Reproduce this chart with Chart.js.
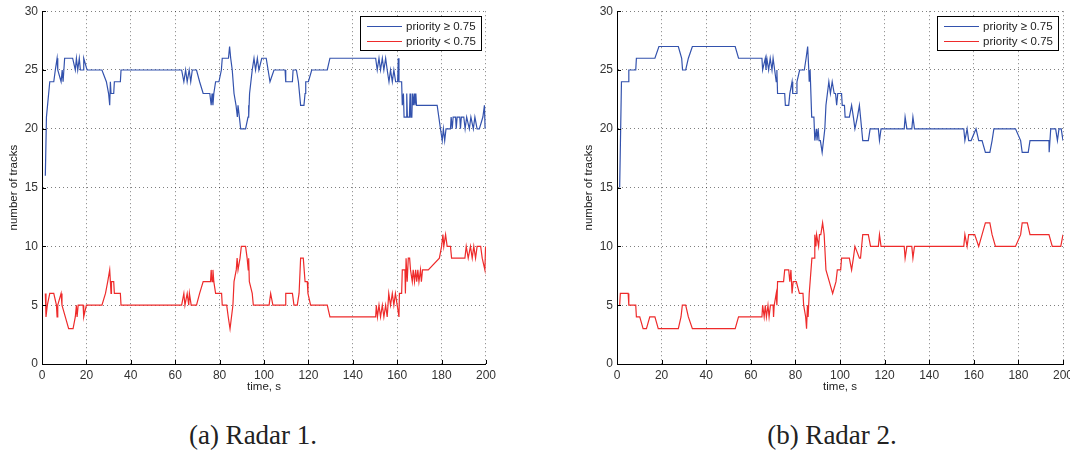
<!DOCTYPE html>
<html>
<head>
<meta charset="utf-8">
<script src="https://cdn.jsdelivr.net/npm/chart.js@4.4.1/dist/chart.umd.min.js"></script>
<style>
  html, body { margin: 0; padding: 0; background: #fff; }
  body { width: 1070px; height: 451px; overflow: hidden; position: relative; }
  canvas { position: absolute; top: 0; }
  .caption { position: absolute; top: 420px; width: 300px; text-align: center; line-height: 30px;
             font-family: "Liberation Serif", "Times New Roman", serif; font-size: 27px; color: #222; }
</style>
</head>
<body>
<canvas id="radar1" width="500" height="400" style="left:0px"></canvas>
<canvas id="radar2" width="510" height="400" style="left:575px"></canvas>
<div class="caption" style="left:103px">(a) Radar 1.</div>
<div class="caption" style="left:682px">(b) Radar 2.</div>
<script>
// tick labels
const xTicks = [0, 20, 40, 60, 80, 100, 120, 140, 160, 180, 200];
const yTicks = [0, 5, 10, 15, 20, 25, 30];
const seriesLabels = ["priority \u2265 0.75", "priority < 0.75"];

// Radar 1, priority >= 0.75
const r1HighT = [1.5,2,3.5,5.3,6,6.8,7.1,8.6,9.1,9.5,10.2,13.8,15,15.5,16.1,16.8,17.3,18.5,18.8,20.3,27,29,30,30.5,30.8,31.1,32.3,32.6,35.3,35.6,
  62.9,63.9,64.7,65.4,66.3,67,67.7,69.6,71,72.6,75.6,76.2,76.6,77,77.4,78.2,79.7,80.8,81.2,84,84.5,85,85.7,86,86.5,87.4,88,88.3,88.9,89.5,
  91.7,92.8,93,93.2,93.5,94.7,95.5,96.2,97,97.7,99,101,102.7,104.5,109.5,109.8,112.8,113.1,114.6,115.5,116.5,118,118.5,118.8,120,121.5,128.5,129.7,
  150.3,151,151.8,152.5,153.3,154,154.8,155.5,156.3,157,157.8,158.5,159.3,160.2,160.5,160.8,162,162.3,162.8,163.1,164,164.3,164.6,165.5,165.8,166.1,
  166.6,166.9,167.3,167.7,168,168.4,168.7,178,179.5,180.3,180.8,181.4,182,184,184.3,184.8,185.2,186.3,186.6,187,188.2,188.5,188.9,190,190.6,191.3,
  192.5,193.2,194.3,195,196,197,198.6,199.3,199.6,200];
const r1HighV = [16,21,24,24,25,26,25,24,25,24,26,26,25,26,25,26,25,25,26,25,25,24,23,22,24,23,23,24,24,25,
  25,24,25,24,25,24,25,25,24,23,23,22,23,22,23,24,24,25,26,26,27,26,25,25,23,22,21,22,21,20,
  20,21,22,21,23,25,26,25,26,25,26,26,24,25,25,24,24,25,25,24,22,22,23,24,24,25,25,26,
  26,25,26,25,26,25,26,25,24,25,24,25,24,24,26,24,24,22,23,21,21,23,21,21,23,21,
  21,23,22,23,22,23,22,22,20,19,20,19,20,20,21,20,21,21,20,21,21,20,21,21,20,21,
  20,21,20,21,20,20,21,22,20,20];

// Radar 1, priority < 0.75
const r1LowT = [1.5,1.8,2.4,3.5,5.3,6.5,6.8,7.1,8.6,9,10.5,12,14,15,15.5,15.8,16.3,18.5,18.8,20,27,28.6,29.6,30.5,30.8,31.1,31.3,32.3,32.6,35.3,35.6,
  62.9,63.9,64.4,65.4,66.1,66.4,67.2,69.6,71,72.6,75.9,76.2,76.6,77,77.4,78.2,80.9,81.2,83.2,83.9,84.7,86,86.5,87.5,87.9,88.3,89.2,89.8,91.7,
  92.4,92.9,93.1,93.4,94.7,95.2,102.3,103,104,109.5,109.8,112.8,113.5,115,115.8,116.5,117.7,118.5,119.5,119.8,121,128.5,129.7,
  150.3,150.6,151.1,151.8,152.5,153.3,154,154.8,155.5,156.2,157,157.8,158.5,159.2,160,160.8,161,162,162.3,163.5,163.7,164,164.5,165,165.6,166,
  166.8,167.2,167.8,168.3,168.8,169.3,169.8,170.5,170.9,171.4,174,179,180,180.6,181,181.8,182.5,184,184.5,190.5,191.1,192,193,193.8,194.5,195.3,
  196,197.6,198.3,199.5,199.8,200];
const r1LowV = [6,4,5,6,6,5,4,5,6,5,4,3,3,4,5,4,5,5,4,5,5,6,7,8,7,6,7,7,6,6,5,
  5,6,5,6,5,6,5,5,6,7,7,8,7,8,7,6,6,5,5,4,3,5,7,8,9,8,9,10,10,
  9,8,9,7,6,5,5,6,5,5,6,6,5,5,6,9,9,7,7,6,5,5,4,
  4,5,4,5,4,5,4,5,4,6,5,6,5,6,5,4,6,6,8,8,6,9,7,9,9,8,
  7,8,7,8,7,8,7,8,7,8,8,9,10,11,10,11,10,10,9,9,10,9,10,9,10,9,
  10,10,9,8,10,10];

// Radar 2, priority >= 0.75
const r2HighT = [1.2,2,5,5.3,8.4,8.7,17,18.8,27.5,29,29.4,30.8,32,33.8,53,54.5,65,65.3,66.5,66.8,67.2,68,68.7,69.5,70,70.7,71.4,71.7,72,75.2,75.5,
  77,77.5,78.5,78.8,80.4,80.7,81.9,84,84.8,85.5,86,86.2,86.6,87.3,88.3,88.7,89.4,89.7,90.2,90.6,91.2,92,93.2,93.7,95,95.7,96.5,97.4,98,98.5,99,
  100.7,101,102,102.3,104.2,105.2,106,106.7,107.8,108.7,109.2,110.2,112.7,113.5,117.2,117.7,118.4,128.8,129.2,130,132.2,132.7,133.4,155.5,156,157,
  157.7,158.8,161,162.2,163.7,165.2,167.2,168.2,169,178.7,181,181.7,184.4,185.2,193.7,193.8,194.5,196.7,197.5,198.2,199.2,200];
const r2HighV = [15,24,24,25,25,26,26,27,27,26,25,25,26,27,27,26,26,25,26,25,26,25,26,25,26,25,24,25,23,23,22,
  22,23,24,23,23,24,25,25,26,27,25,24,25,21,21,19,20,19,20,19,19,18,20,22,24,23,24,23,23,22,23,
  23,22,22,21,21,22,21,20,21,22,21,19,19,20,20,19,20,20,21,20,20,21,20,20,19,20,
  19,19,20,19,19,18,18,19,20,20,19,18,18,19,19,18,20,20,19,20,20,19];

// Radar 2, priority < 0.75
const r2LowT = [1.2,1.5,5,5.3,8.4,8.7,10.2,11.7,13.2,14.7,17,18.5,27.5,28.7,29.3,30.8,32,33.8,53,54.5,65,65.3,66,66.5,67,67.7,68.2,68.8,70,70.2,70.5,
  71.4,71.7,72,74.7,75.2,77,77.5,78,78.5,79,80.4,81.8,83.4,83.7,84.6,85,85.4,85.7,86.2,87.4,88.4,88.7,89.2,89.5,90.4,90.8,91.4,92.2,92.9,93.7,
  95.2,96.7,98.2,98.8,100.3,100.7,104.2,105.2,106,106.7,108.7,109.2,110.2,112.7,113.7,117.2,117.7,118.4,128.8,129.2,130,132.2,132.7,133.4,
  155.5,156,157,157.7,160.4,162.2,163.7,165.2,167.2,168.2,169.7,178.7,181,181.7,184,185.2,193.7,195.2,199,200];
const r2LowV = [5,6,6,5,5,4,4,3,3,4,4,3,3,4,5,5,4,3,3,4,4,5,4,5,4,5,4,5,5,4,5,
  6,5,7,7,8,8,7,8,6,7,7,6,6,5,4,3,5,4,6,9,9,11,10,11,10,11,11,12,11,8,
  7,6,7,8,8,9,9,8,9,10,9,9,11,11,10,10,11,10,10,9,10,10,9,10,
  10,11,10,11,11,10,11,12,12,11,10,10,11,12,12,11,11,10,10,11];

const BLUE = "#3352ad";
const RED = "#ee2b2b";
const FONT = '"Liberation Sans", Arial, Helvetica, sans-serif';

function pts(t, v) {
    return t.map((x, i) => ({ x: x, y: v[i] }));
}

// legend box drawn inside the plot, top right, like matlab
const boxLegend = {
    id: "boxLegend",
    afterDraw(chart) {
        const { ctx, chartArea } = chart;
        const sets = chart.data.datasets;
        ctx.save();
        ctx.font = "11.5px " + FONT;
        const tw = Math.max(...sets.map(d => ctx.measureText(d.label).width));
        const w = Math.round(7 + 35 + 4 + tw + 5), h = 34;
        const x = Math.round(chartArea.right - 5 - w), y = Math.round(chartArea.top + 5);
        ctx.fillStyle = "#fff";
        ctx.fillRect(x, y, w, h);
        ctx.strokeStyle = "#000";
        ctx.lineWidth = 1;
        ctx.strokeRect(x + 0.5, y + 0.5, w, h);
        sets.forEach((d, i) => {
            const ly = y + 10.5 + i * 15;
            ctx.strokeStyle = d.borderColor;
            ctx.lineWidth = d.borderWidth;
            ctx.beginPath();
            ctx.moveTo(x + 7, ly);
            ctx.lineTo(x + 42, ly);
            ctx.stroke();
            ctx.fillStyle = "#222";
            ctx.textBaseline = "middle";
            ctx.fillText(d.label, x + 46, ly + 0.5);
        });
        ctx.restore();
    }
};

// small inward tick marks on both axes
const inTicks = {
    id: "inTicks",
    afterDraw(chart) {
        const { ctx, chartArea: a, scales } = chart;
        ctx.save();
        ctx.strokeStyle = "#000";
        ctx.lineWidth = 1;
        ctx.beginPath();
        scales.x.ticks.forEach(t => {
            const px = Math.round(scales.x.getPixelForValue(t.value)) + 0.5;
            ctx.moveTo(px, a.bottom);
            ctx.lineTo(px, a.bottom - 4);
        });
        scales.y.ticks.forEach(t => {
            const py = Math.round(scales.y.getPixelForValue(t.value)) + 0.5;
            ctx.moveTo(a.left, py);
            ctx.lineTo(a.left + 4, py);
        });
        ctx.stroke();
        ctx.restore();
    }
};

function makeChart(id, highT, highV, lowT, lowV, padRight) {
    const ctx = document.getElementById(id).getContext("2d");
    return new Chart(ctx, {
        type: "line",
        data: {
            datasets: [
                { label: seriesLabels[0], data: pts(highT, highV), borderColor: BLUE, borderWidth: 1.2, pointRadius: 0, tension: 0 },
                { label: seriesLabels[1], data: pts(lowT, lowV), borderColor: RED, borderWidth: 1.2, pointRadius: 0, tension: 0 }
            ]
        },
        options: {
            responsive: false,
            animation: false,
            layout: { padding: { top: 11, right: padRight, left: 0, bottom: 0 } },
            plugins: { legend: { display: false }, tooltip: { enabled: false } },
            scales: {
                x: {
                    type: "linear", min: 0, max: 200,
                    afterBuildTicks: s => { s.ticks = xTicks.map(v => ({ value: v })); },
                    afterFit: s => { s.height = 36; },
                    ticks: { color: "#333", font: { family: FONT, size: 12 }, padding: 4, maxRotation: 0 },
                    grid: { color: "rgba(0,0,0,0.5)", lineWidth: 1, drawTicks: false },
                    border: { color: "#000", width: 1, dash: [1, 3] },
                    title: { display: true, text: "time, s", color: "#222", font: { family: FONT, size: 11.5 }, padding: { top: 0, bottom: 6 } }
                },
                y: {
                    min: 0, max: 30,
                    afterBuildTicks: s => { s.ticks = yTicks.map(v => ({ value: v })); },
                    afterFit: s => { s.width = 42; },
                    ticks: { color: "#333", font: { family: FONT, size: 12 }, padding: 4 },
                    grid: { color: "rgba(0,0,0,0.5)", lineWidth: 1, drawTicks: false },
                    border: { color: "#000", width: 1, dash: [1, 3] },
                    title: { display: true, text: "number of tracks", color: "#222", font: { family: FONT, size: 11.5 }, padding: { top: 7, bottom: 0 } }
                }
            }
        },
        plugins: [inTicks, boxLegend]
    });
}

makeChart("radar1", r1HighT, r1HighV, r1LowT, r1LowV, 12);
makeChart("radar2", r2HighT, r2HighV, r2LowT, r2LowV, 22);
</script>
</body>
</html>
